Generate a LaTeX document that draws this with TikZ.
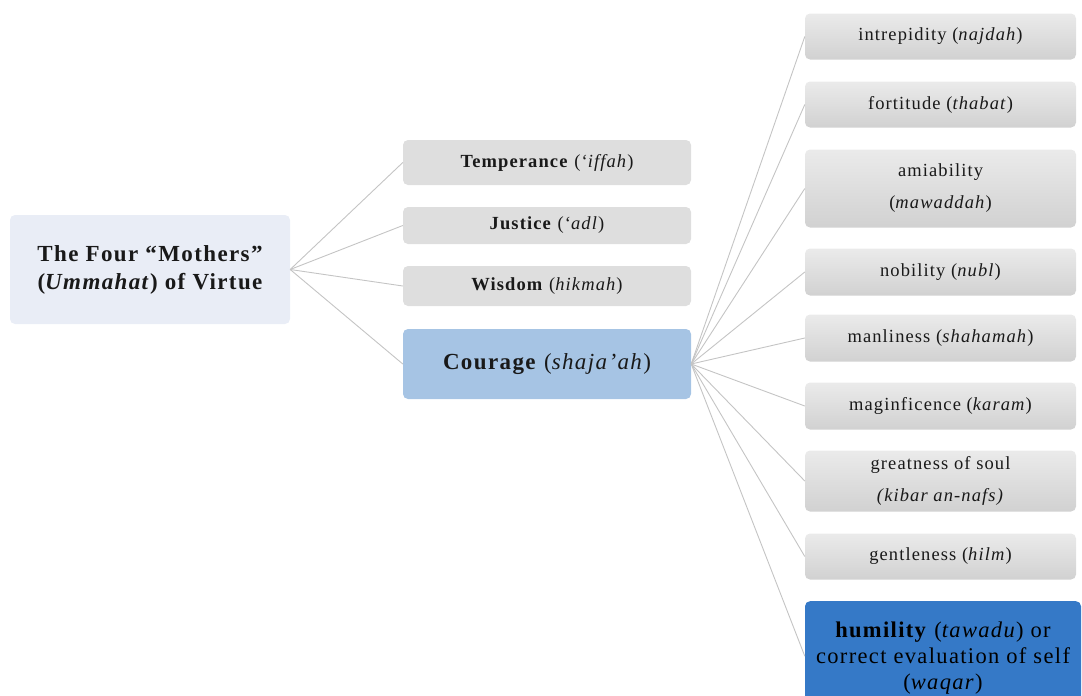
\documentclass[tikz,border=0pt]{standalone}
\usepackage{fontspec}
\setmainfont{Liberation Serif}[LetterSpace=6]
\definecolor{rootfill}{HTML}{E9EDF6}
\definecolor{midfill}{HTML}{DEDEDE}
\definecolor{courfill}{HTML}{A6C4E4}
\definecolor{humfill}{HTML}{3579C7}
\definecolor{linecol}{HTML}{C4C4C4}
\tikzset{
  x=1pt,y=-1pt,
  box/.style={rounded corners=5pt, inner sep=1pt, align=center, text=black!90},
  rootbox/.style={box, fill=rootfill, font=\fontsize{23}{28}\selectfont\bfseries, minimum width=280pt, minimum height=109pt},
  midbox/.style={box, fill=midfill, font=\fontsize{18.5}{21}\selectfont, minimum width=288pt},
  courbox/.style={box, fill=courfill, font=\fontsize{23}{26}\selectfont, minimum width=288pt, minimum height=70pt},
  leafbox/.style={box, top color=black!8, bottom color=black!18, font=\fontsize{18.5}{32}\selectfont, minimum width=271pt},
  humbox/.style={box, fill=humfill, font=\fontsize{22.5}{26}\selectfont, minimum width=276pt, minimum height=110pt},
  conn/.style={draw=linecol, line width=0.9pt}
}
\begin{document}
\begin{tikzpicture}
\useasboundingbox (0,0) rectangle (1082,696);
\clip (0,0) rectangle (1082,696);
% root
\node[rootbox] (root) at (150,269.5) {The Four “Mothers”\\(\textit{Ummahat}) of Virtue};
% middle
\node[midbox, minimum height=45pt] (temp) at (547,162.5) {\textbf{Temperance} (‘\textit{iffah})};
\node[midbox, minimum height=37pt] (just) at (547,225.5) {\textbf{Justice} (‘\textit{adl})};
\node[midbox, minimum height=40pt] (wis) at (547,286) {\textbf{Wisdom} (\textit{hikmah})};
\node[courbox] (cour) at (547,364) {\textbf{Courage} (\textit{shaja’ah})};
% leaves
\node[leafbox, minimum height=46pt] (l1) at (940.5,36.5) {intrepidity (\textit{najdah})};
\node[leafbox, minimum height=46pt] (l2) at (940.5,104.5) {fortitude (\textit{thabat})};
\node[leafbox, minimum height=78pt] (l3) at (940.5,188.5) {amiability\\(\textit{mawaddah})};
\node[leafbox, minimum height=47pt] (l4) at (940.5,272) {nobility (\textit{nubl})};
\node[leafbox, minimum height=47pt] (l5) at (940.5,338) {manliness (\textit{shahamah})};
\node[leafbox, minimum height=47pt] (l6) at (940.5,406) {maginficence (\textit{karam})};
\node[leafbox, minimum height=61pt] (l7) at (940.5,481) {greatness of soul\\\textit{(kibar an-nafs)}};
\node[leafbox, minimum height=46pt] (l8) at (940.5,556.5) {gentleness (\textit{hilm})};
\node[humbox, anchor=north, text=black] (l9) at (943,601) {\rule{0pt}{22pt}\textbf{humility} (\textit{tawadu}) or\\correct evaluation of self\\(\textit{waqar})\rule[-8pt]{0pt}{8pt}};
% connectors
\foreach \t in {temp,just,wis,cour} \draw[conn] (root.east) -- (\t.west);
\foreach \t in {l1,l2,l3,l4,l5,l6,l7,l8} \draw[conn] (cour.east) -- (\t.west);
\draw[conn] (cour.east) -- (l9.west);
\end{tikzpicture}
\end{document}
